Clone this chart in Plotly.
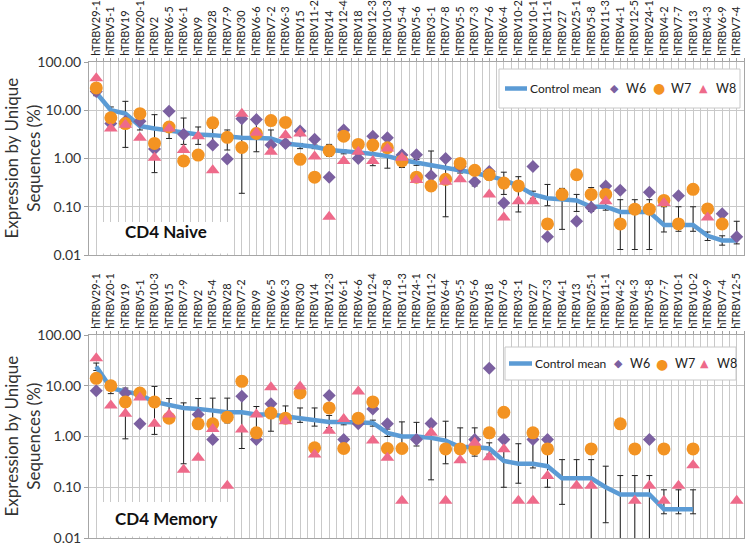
import plotly.graph_objects as go

# CD4 naive panel
naive_labels = ["hTRBV29-1", "hTRBV5-1", "hTRBV19", "hTRBV20-1", "hTRBV2", "hTRBV6-5", "hTRBV6-1",
                "hTRBV9", "hTRBV28", "hTRBV7-9", "hTRBV30", "hTRBV6-6", "hTRBV7-2", "hTRBV6-3",
                "hTRBV15", "hTRBV11-2", "hTRBV14", "hTRBV12-4", "hTRBV18", "hTRBV12-3", "hTRBV10-3",
                "hTRBV5-4", "hTRBV5-6", "hTRBV3-1", "hTRBV7-8", "hTRBV5-5", "hTRBV7-3", "hTRBV7-6",
                "hTRBV6-4", "hTRBV10-2", "hTRBV10-1", "hTRBV11-1", "hTRBV27", "hTRBV25-1", "hTRBV5-8",
                "hTRBV11-3", "hTRBV4-1", "hTRBV12-5", "hTRBV24-1", "hTRBV4-2", "hTRBV7-7", "hTRBV13",
                "hTRBV4-3", "hTRBV6-9", "hTRBV7-4"]
naive_mean = [23, 10, 8.5, 4.7, 4.2, 3.8, 3.4, 3.15, 3.05, 2.8, 2.7, 2.65, 2.6, 2.05, 1.9, 1.75, 1.5,
              1.38, 1.34, 1.24, 1.12, 0.93, 0.83, 0.74, 0.63, 0.58, 0.5, 0.43, 0.36, 0.27, 0.18, 0.15,
              0.14, 0.135, 0.1, 0.1, 0.078, 0.078, 0.078, 0.042, 0.042, 0.042, 0.025, 0.02, 0.02]
naive_hi = [26, 11.7, 15.3, 5.5, 8.1, 4.6, 6.9, 4.5, 4.2, 3.9, 8.0, 5.75, 3.9, 2.4, 2.05, 1.9, 1.96,
            1.5, 1.45, 1.9, 1.75, 1.18, 0.95, 1.43, 1.0, 0.68, 0.6, 0.5, 0.52, 0.42, 0.21, 0.29, 0.24,
            0.18, 0.25, 0.12, 0.14, 0.14, 0.14, 0.1, 0.1, 0.1, 0.03, 0.025, 0.05]
naive_lo = [20, 8.5, 1.7, 3.9, 0.51, 2.6, 1.96, 1.96, 2.05, 1.5, 0.19, 1.38, 1.38, 1.8, 1.6, 1.6, 1.1,
            1.25, 1.2, 0.71, 0.63, 0.65, 0.72, 0.5, 0.062, 0.5, 0.27, 0.36, 0.18, 0.078, 0.15, 0.105,
            0.034, 0.08, 0.08, 0.085, 0.013, 0.013, 0.013, 0.03, 0.031, 0.031, 0.02, 0.016, 0.017]
naive_w6 = [24.5, 5.3, 5.9, 5.9, 1.57, 9.5, 3.2, None, 1.9, 0.98, 6.7, 6.4, 1.9, 2.05, 3.7, 2.5, 0.41,
            3.9, 1.0, 2.9, 2.7, 1.18, 1.2, 0.44, 1.0, 0.68, 0.33, 0.54, 0.12, None, 0.68, 0.024, None,
            0.05, 0.096, 0.27, 0.22, None, 0.2, None, 0.17, None, None, 0.072, 0.024]
naive_w7 = [29, 6.95, 5.3, 8.5, 2.05, 4.5, 0.89, 1.18, 5.5, 2.75, 1.7, 3.3, 6.1, 5.6, 0.96, 0.41, 1.45,
            2.9, 1.96, 1.9, 1.67, 0.89, 0.41, 0.27, 0.37, 0.79, 0.57, 0.46, 0.31, 0.27, None, 0.044,
            0.18, 0.46, 0.18, 0.18, 0.044, 0.089, 0.089, 0.135, 0.044, 0.23, 0.09, 0.044, None]
naive_w8 = [46, 4.2, 5.0, 2.7, 1.04, 4.2, 1.5, 2.9, 0.57, None, 8.5, 3.4, 1.38, 3.05, 3.3, 1.1, 0.062,
            0.89, 1.38, 0.89, 1.62, 1.04, 0.36, None, 0.33, 0.37, None, 0.18, 0.06, 0.13, 0.13, None,
            None, None, None, 0.13, None, None, None, 0.12, None, None, 0.06, None, None]

# CD4 memory panel
mem_labels = ["hTRBV29-1", "hTRBV20-1", "hTRBV19", "hTRBV5-1", "hTRBV10-3", "hTRBV15", "hTRBV7-9",
              "hTRBV2", "hTRBV5-4", "hTRBV28", "hTRBV7-2", "hTRBV9", "hTRBV6-5", "hTRBV6-3", "hTRBV30",
              "hTRBV14", "hTRBV12-3", "hTRBV6-1", "hTRBV6-6", "hTRBV12-4", "hTRBV7-8", "hTRBV11-3",
              "hTRBV24-1", "hTRBV11-2", "hTRBV6-4", "hTRBV5-5", "hTRBV5-6", "hTRBV18", "hTRBV7-6",
              "hTRBV3-1", "hTRBV27", "hTRBV7-3", "hTRBV4-1", "hTRBV13", "hTRBV25-1", "hTRBV11-1",
              "hTRBV4-2", "hTRBV4-3", "hTRBV5-8", "hTRBV7-7", "hTRBV10-1", "hTRBV10-2", "hTRBV6-9",
              "hTRBV7-4", "hTRBV12-5"]
mem_mean = [24, 9, 7.7, 6.7, 4.8, 4.1, 3.65, 3.5, 3.3, 3.0, 3.0, 2.7, 2.7, 2.5, 2.3, 2.15, 1.94, 1.94,
            1.85, 1.85, 1.18, 1.0, 1.0, 0.94, 0.83, 0.62, 0.62, 0.58, 0.33, 0.29, 0.29, 0.26, 0.15,
            0.15, 0.15, 0.1, 0.072, 0.072, 0.072, 0.037, 0.037, 0.037, None, None, None]
mem_hi = [28, 10, 9, 7.3, 9.7, 5.6, 4.6, 5.6, 5.7, 5.7, 5.4, 3.9, 3.65, 4.0, 3.65, 3.65, 2.6, 2.2,
          2.1, 2.1, 1.4, 1.94, 1.9, 1.9, 2.0, 1.48, 1.48, 0.75, 0.87, 0.72, 0.77, 0.46, 0.35, 0.35,
          0.35, 0.26, 0.17, 0.17, 0.17, 0.089, 0.089, 0.089, None, None, None]
mem_lo = [20, 7, 0.9, 6.1, 1.1, 2.6, 0.29, 1.6, 1.5, 1.85, 0.58, 1.5, 1.27, 1.9, 1.9, 1.6, 1.5, 1.7,
          1.6, 1.6, 1.0, 0.58, 0.65, 0.14, 0.29, 0.56, 0.41, 0.45, 0.1, 0.12, 0.24, 0.1, 0.046, 0.1,
          0.005, 0.02, 0.005, 0.005, 0.005, 0.03, 0.03, 0.03, None, None, None]
mem_w6 = [8, None, 7.2, 1.78, None, None, None, 2.7, 0.87, None, 6.2, 0.87, 4.4, None, None, None, 6.4,
          0.87, 1.78, 3.5, 1.78, None, 0.87, 1.8, None, None, 0.87, 22, 0.87, None, 0.87, 0.87, None,
          None, None, None, None, None, 0.87, None, None, None, None, None, None]
mem_w7 = [14, 10, 4.8, 7.2, 4.8, 2.3, None, 1.78, 1.78, 2.4, 12.2, 1.18, 2.9, 2.3, 7.2, 0.6, 3.65, 0.58,
          2.3, 4.8, 0.58, 0.58, None, None, 0.57, 0.57, 0.57, 1.18, 3.0, None, 1.18, 0.57, None, None,
          0.57, None, 1.78, 0.57, None, 0.57, None, 0.57, None, None, None]
mem_w8 = [35, 4.1, 2.8, 5.9, 1.78, 2.7, 0.22, 0.38, 1.4, 0.107, 1.37, 2.7, 9.3, 2.0, 9.7, 0.44, 1.3, 2.2,
          7.7, 0.83, 0.38, 0.054, None, 1.18, 0.054, 0.34, 0.75, 0.39, 0.56, 0.054, 0.054, 0.166, None,
          0.107, 0.107, None, None, 0.054, 0.107, 0.054, 0.107, 0.27, None, None, 0.054]

# figure fills the whole window; the page's default body margin is removed after drawing
FW, FH = 747, 548
PLOT_L, PLOT_R, PLOT_T, PLOT_B = 89, 744, 62, 538
ML, MR, MT, MB = PLOT_L, FW - PLOT_R, 0, FH - PLOT_B
PW, PH = PLOT_R - PLOT_L, PLOT_B - MT

FONT = "Lato, Open Sans, sans-serif"
GRID = "#C9C9C9"
FRAME = "#A6A6A6"
C_LINE = "#5B9BD5"
C_W6 = "#7B60A0"
C_W7 = "#F39322"
C_W8 = "#EE6A8A"


def px_x(p):
    return (p - PLOT_L) / PW


def px_y(p):
    return (PLOT_B - p) / PH


def errs(mean, hi, lo):
    plus = [None if m is None else h - m for m, h in zip(mean, hi)]
    minus = [None if m is None else m - l for m, l in zip(mean, lo)]
    return plus, minus


def add_panel(fig, xa, ya, mean, hi, lo, w6, w7, w8):
    xs = list(range(len(mean)))
    plus, minus = errs(mean, hi, lo)
    fig.add_trace(go.Scatter(x=xs, y=mean, mode="lines", name="Control mean",
                             line=dict(color=C_LINE, width=4.5),
                             error_y=dict(type="data", array=plus, arrayminus=minus,
                                          color="#222222", thickness=1, width=3),
                             xaxis=xa, yaxis=ya))
    fig.add_trace(go.Scatter(x=xs, y=w6, mode="markers", name="W6",
                             marker=dict(symbol="diamond", size=10, color=C_W6),
                             xaxis=xa, yaxis=ya))
    fig.add_trace(go.Scatter(x=xs, y=w7, mode="markers", name="W7",
                             marker=dict(symbol="circle", size=13, color=C_W7),
                             xaxis=xa, yaxis=ya))
    fig.add_trace(go.Scatter(x=xs, y=w8, mode="markers", name="W8",
                             marker=dict(symbol="triangle-up", size=12, color=C_W8),
                             xaxis=xa, yaxis=ya))


def xaxis(labels, anchor):
    # gridlines at every category and every category boundary; only centres get labels
    vals, texts = [], []
    for i, lab in enumerate(labels):
        vals += [i, i + 0.5]
        texts += [lab, ""]
    return dict(anchor=anchor, side="top", range=[-0.5, len(labels) - 0.5],
                tickmode="array", tickvals=vals, ticktext=texts,
                tickangle=-90, tickfont=dict(size=11, color="#222222", family=FONT),
                ticks="outside", ticklen=3, tickcolor="#A0A0A0",
                showgrid=True, gridcolor=GRID, gridwidth=1,
                showline=True, linecolor=FRAME, mirror=True, zeroline=False,
                automargin=False, domain=[0, 1])


def yaxis(anchor, dom):
    return dict(anchor=anchor, type="log", range=[-2, 2], domain=dom,
                tickmode="array", tickvals=[0.01, 0.1, 1, 10, 100],
                ticktext=["0.01", "0.10", "1.00", "10.00", "100.00"],
                tickfont=dict(size=14, color="#333333", family=FONT),
                ticks="outside", ticklen=4, tickcolor="#A0A0A0",
                showgrid=True, gridcolor=GRID, gridwidth=1,
                showline=True, linecolor=FRAME, mirror=True, zeroline=False,
                automargin=False)


top_dom = [px_y(255), px_y(62)]
bot_dom = [px_y(538), px_y(335)]

fig = go.Figure()
add_panel(fig, "x", "y", naive_mean, naive_hi, naive_lo, naive_w6, naive_w7, naive_w8)
add_panel(fig, "x2", "y2", mem_mean, mem_hi, mem_lo, mem_w6, mem_w7, mem_w8)

fig.update_layout(
    width=FW, height=FH,
    margin=dict(l=ML, r=MR, t=MT, b=MB),
    paper_bgcolor="white", plot_bgcolor="white",
    font=dict(family=FONT, color="#222222"),
    showlegend=False,
    xaxis=xaxis(naive_labels, "y"),
    xaxis2=xaxis(mem_labels, "y2"),
    yaxis=yaxis("x", top_dom),
    yaxis2=yaxis("x2", bot_dom),
)

# panel name boxes and y-axis titles
for dom, label, box_top, txt_y in [(top_dom, "CD4 Naive", 222, 232),
                                   (bot_dom, "CD4 Memory", 502, 518)]:
    fig.add_shape(type="rect", xref="paper", yref="paper",
                  x0=px_x(101), x1=px_x(233), y0=dom[0] + 0.003, y1=px_y(box_top),
                  fillcolor="white", line=dict(width=0), layer="above")
    fig.add_annotation(text=f"<b>{label}</b>", xref="paper", yref="paper",
                       x=px_x(166), y=px_y(txt_y), showarrow=False, xanchor="center", yanchor="middle",
                       font=dict(size=17, color="#111111", family=FONT))
    fig.add_annotation(text="Expression by Unique<br>Sequences (%)", xref="paper", yref="paper",
                       x=px_x(22), y=(dom[0] + dom[1]) / 2, textangle=-90,
                       showarrow=False, xanchor="center", yanchor="middle",
                       font=dict(size=17, color="#333333", family=FONT))

# legends, one per panel
legend_items = [("Control mean", None, C_LINE), ("W6", "◆", C_W6), ("W7", "●", C_W7), ("W8", "▲", C_W8)]
for x0, x1, y0, y1, line_x, text_x, sym_x, name_x in [
        (499, 740, 69, 108, (505, 527), 528, (614, 659, 703), (624, 669, 714)),
        (505, 736, 347, 380, (509, 532), 533, (618, 662, 704), (628, 673, 715))]:
    yc = (y0 + y1) / 2
    fig.add_shape(type="rect", xref="paper", yref="paper",
                  x0=px_x(x0), x1=px_x(x1), y0=px_y(y1), y1=px_y(y0),
                  fillcolor="white", line=dict(color="#C8C8C8", width=1), layer="above")
    fig.add_shape(type="line", xref="paper", yref="paper",
                  x0=px_x(line_x[0]), x1=px_x(line_x[1]), y0=px_y(yc), y1=px_y(yc),
                  line=dict(color=C_LINE, width=4.5), layer="above")
    fig.add_annotation(text=legend_items[0][0], xref="paper", yref="paper",
                       x=px_x(text_x), y=px_y(yc), xanchor="left", yanchor="middle", showarrow=False,
                       font=dict(size=12, color="#222222", family=FONT))
    for (name, glyph, color), sx, nx in zip(legend_items[1:], sym_x, name_x):
        fig.add_annotation(text=glyph, xref="paper", yref="paper",
                           x=px_x(sx), y=px_y(yc), xanchor="center", yanchor="middle", showarrow=False,
                           font=dict(size=11 if glyph != "●" else 14, color=color, family="DejaVu Sans"))
        fig.add_annotation(text=name, xref="paper", yref="paper",
                           x=px_x(nx), y=px_y(yc), xanchor="left", yanchor="middle", showarrow=False,
                           font=dict(size=12.5, color="#222222", family=FONT))

fig.write_html("out.html", config={"displayModeBar": False},
               post_script="document.body.style.margin = '0px';")
